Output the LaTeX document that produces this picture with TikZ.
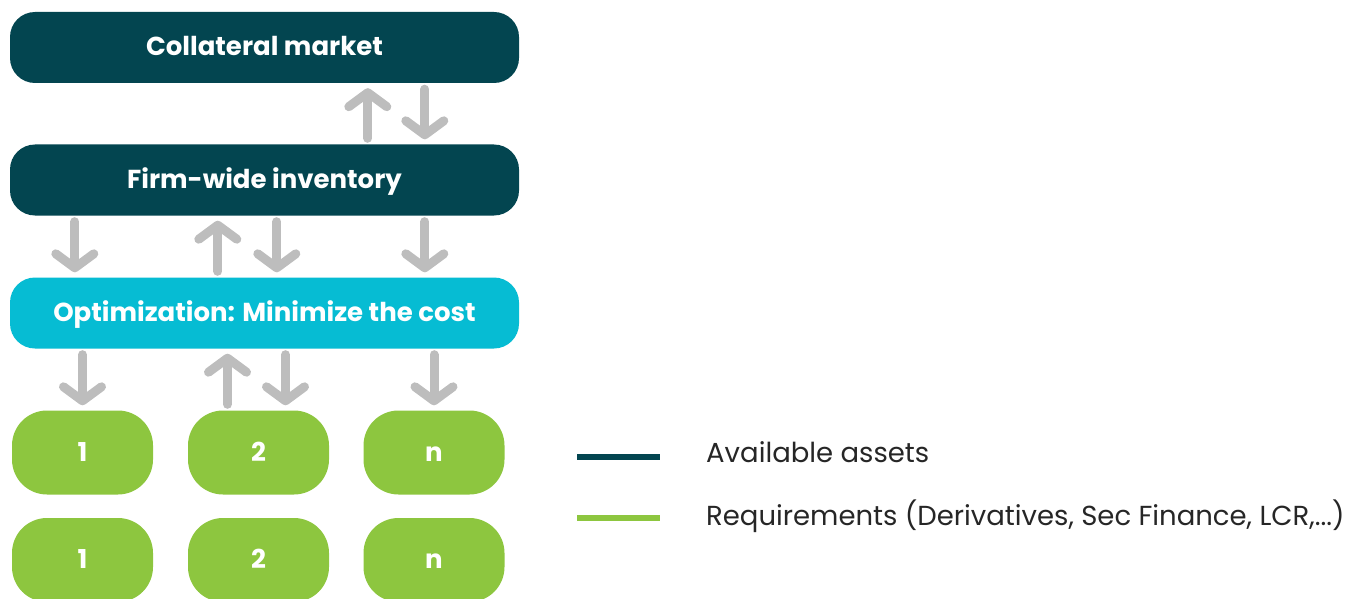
\documentclass[tikz,border=0pt]{standalone}
\usepackage{fontspec}
\setmainfont{Poppins}
\usetikzlibrary{arrows.meta}
\usetikzlibrary{positioning}
\definecolor{tealdark}{HTML}{034550}
\definecolor{cyanopt}{HTML}{06BCD3}
\definecolor{greenreq}{HTML}{8DC63F}
\definecolor{greyarrow}{HTML}{BDBDBD}

\begin{document}
\begin{tikzpicture}[x=1pt,y=-1pt]
    \tikzstyle{bigbox}=[rounded corners=25pt,minimum width=509pt,minimum height=71pt,inner sep=0pt,text height=17pt,text depth=0pt,text=white,font=\fontsize{26}{30}\selectfont\bfseries]
    \tikzstyle{asset box}=[bigbox,fill=tealdark]
    \tikzstyle{optim box}=[bigbox,fill=cyanopt]
    \tikzstyle{req box}=[rounded corners=35pt,fill=greenreq,minimum width=141pt,minimum height=84pt,inner sep=0pt,text height=17pt,text depth=0pt,text=white,font=\fontsize{26}{30}\selectfont\bfseries]
    \tikzstyle{garrow}=[draw=greyarrow,line width=9pt,line cap=round,shorten <=6pt,shorten >=5pt,-{Straight Barb[length=14pt,width=38pt,round]}]
    \tikzstyle{legend}=[anchor=west,inner sep=0pt,font=\fontsize{27.5}{31}\selectfont,text=black!85]
    \useasboundingbox (0,0) rectangle (1368,599);

% Boites principales
\node[asset box] (market) at (264.5,47.5) {Collateral market};
\node[asset box] (inventory) at (264.5,180) {Firm-wide inventory};
\node[optim box] (optim) at (264.5,313) {Optimization: Minimize the cost};

% Exigences
\node[req box] (R1-1) at (82.5,452.5) {1};
\node[req box] (R1-2) at (258.5,452.5) {2};
\node[req box] (R1-n) at (434,452.5) {n};
\node[req box] (R2-1) at (82.5,560) {1};
\node[req box] (R2-2) at (258.5,560) {2};
\node[req box] (R2-n) at (434,560) {n};

% Fleches
\draw[garrow] ([xshift=358]inventory.north west) -- ([xshift=358]market.south west);
\draw[garrow] ([xshift=415]market.south west) -- ([xshift=415]inventory.north west);

\draw[garrow] ([xshift=65]inventory.south west) -- ([xshift=65]optim.north west);
\draw[garrow] ([xshift=208]optim.north west) -- ([xshift=208]inventory.south west);
\draw[garrow] ([xshift=267]inventory.south west) -- ([xshift=267]optim.north west);
\draw[garrow] ([xshift=415]inventory.south west) -- ([xshift=415]optim.north west);

\draw[garrow] (R1-1.north |- optim.south) -- (R1-1.north);
\draw[garrow] ([xshift=-31]R1-2.north) -- ([xshift=-31]R1-2.north |- optim.south);
\draw[garrow] ([xshift=27]R1-2.north |- optim.south) -- ([xshift=27]R1-2.north);
\draw[garrow] (R1-n.north |- optim.south) -- (R1-n.north);

% Legende
\node[legend] (L-assets) at (706,452) {Available assets};
\node[legend] (L-req) at (706,516) {Requirements (Derivatives, Sec Finance, LCR,...)};
\draw[tealdark,line width=6pt] (577,457) -- (660,457);
\draw[greenreq,line width=6pt] (577,518) -- (660,518);

\end{tikzpicture}
\end{document}
